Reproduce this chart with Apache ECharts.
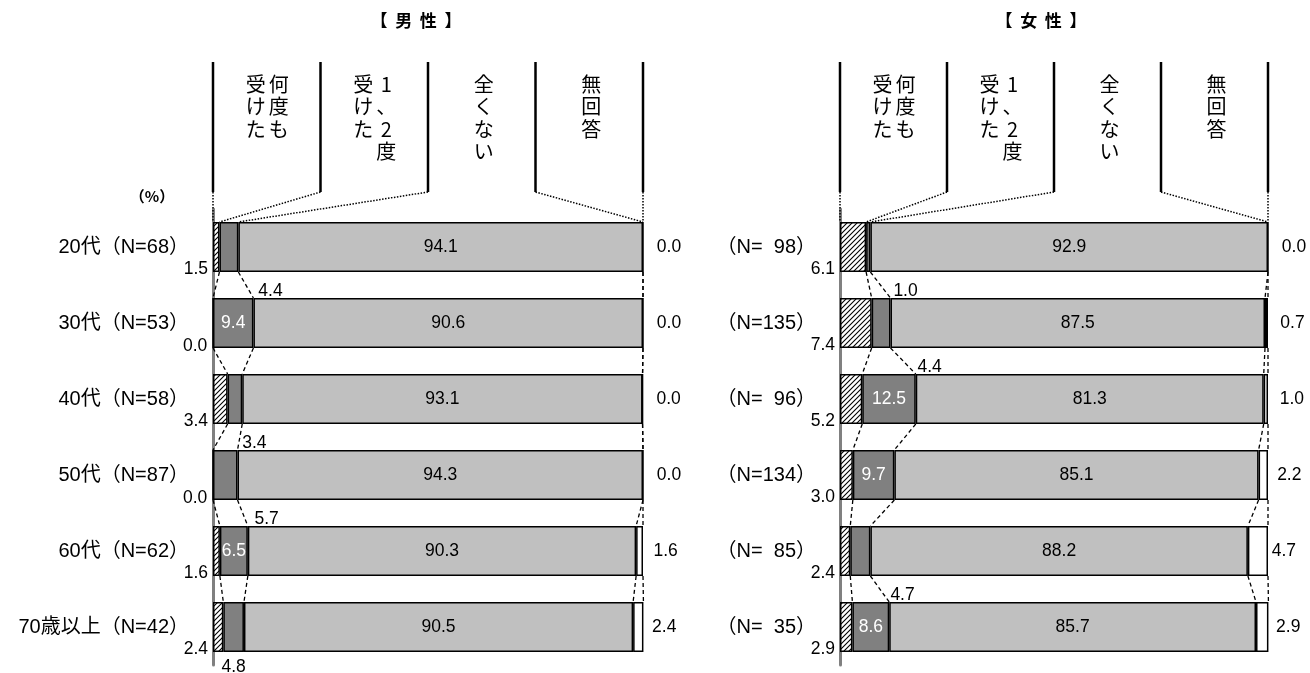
<!DOCTYPE html>
<html>
<head>
<meta charset="utf-8">
<script src="https://cdn.jsdelivr.net/npm/echarts@6/dist/echarts.min.js"></script>
<style>
  html, body { margin: 0; padding: 0; background: #fff; }
  #chart { width: 1310px; height: 673px; }
</style>
</head>
<body>
<div id="chart"></div>
<script>
// categories
const AGE_M = ['20代（N=68）', '30代（N=53）', '40代（N=58）', '50代（N=87）', '60代（N=62）', '70歳以上（N=42）'];
const AGE_F = ['（N=  98）', '（N=135）', '（N=  96）', '（N=134）', '（N=  85）', '（N=  35）'];
const HEADER_COLS = [['何度も', '受けた'], ['1、2度', '受けた'], ['全くない'], ['無回答']];

// 男性
const M_MANY = [1.5, 0.0, 3.4, 0.0, 1.6, 2.4];
const M_ONCE = [4.4, 9.4, 3.4, 5.7, 6.5, 4.8];
const M_NEVER = [94.1, 90.6, 93.1, 94.3, 90.3, 90.5];
const M_NA = [0.0, 0.0, 0.0, 0.0, 1.6, 2.4];

// 女性
const F_MANY = [6.1, 7.4, 5.2, 3.0, 2.4, 2.9];
const F_ONCE = [1.0, 4.4, 12.5, 9.7, 4.7, 8.6];
const F_NEVER = [92.9, 87.5, 81.3, 85.1, 88.2, 85.7];
const F_NA = [0.0, 0.7, 1.0, 2.2, 4.7, 2.9];

// label nudges for the small "1、2度" values (null = centred under the segment)
const M_ONCE_DX = [20, 0, 0, 17, 0, null];
const F_ONCE_DX = [23, 27, 0, 0, 20, 0];

const BAR = 50;
const HALF = BAR / 2;
const NUM_FONT = 'Liberation Sans, Arial, sans-serif';
const JP_FONT = '"Noto Sans CJK JP", sans-serif';

// hatch for 何度も受けた
const hatch = document.createElement('canvas');
hatch.width = 5; hatch.height = 5;
(function () {
  const c = hatch.getContext('2d');
  c.fillStyle = '#fff';
  c.fillRect(0, 0, 5, 5);
  c.strokeStyle = '#000';
  c.lineWidth = 1.1;
  c.beginPath();
  c.moveTo(-1, 6); c.lineTo(6, -1);
  c.moveTo(-1, 1); c.lineTo(1, -1);
  c.moveTo(4, 6); c.lineTo(6, 4);
  c.stroke();
})();

const fmt = p => Number(p.value).toFixed(1);

function onceLabel(v, dx) {
  if (v >= 6) return { show: true, position: 'inside', color: '#fff' };
  if (dx === null) {
    return { show: true, position: ['50%', '100%'], offset: [0, 15], align: 'center', verticalAlign: 'middle' };
  }
  return { show: true, position: ['100%', '100%'], offset: [dx, 19], align: 'left', verticalAlign: 'middle' };
}

function buildSide(idx, many, once, never, na, onceDx) {
  const stack = 's' + idx;
  const base = {
    type: 'bar', stack: stack, barWidth: BAR,
    xAxisIndex: idx, yAxisIndex: idx,
    itemStyle: { borderColor: '#000', borderWidth: 1.5 },
    label: { fontSize: 17.5, fontFamily: NUM_FONT, color: '#000', formatter: fmt }
  };
  const series = [
    Object.assign({}, base, {
      name: '何度も受けた',
      data: many,
      itemStyle: { color: { image: hatch, repeat: 'repeat' }, borderColor: '#000', borderWidth: 1.5 },
      label: Object.assign({}, base.label, {
        show: true, position: ['0%', '100%'], offset: [-5, -3], align: 'right', verticalAlign: 'middle'
      })
    }),
    Object.assign({}, base, {
      name: '1、2度受けた',
      data: once.map((v, i) => ({ value: v, label: onceLabel(v, onceDx[i]) })),
      itemStyle: { color: '#808080', borderColor: '#000', borderWidth: 1.5 },
      label: Object.assign({}, base.label, { show: true })
    }),
    Object.assign({}, base, {
      name: '全くない',
      data: never,
      itemStyle: { color: '#c0c0c0', borderColor: '#000', borderWidth: 1.5 },
      label: Object.assign({}, base.label, { show: true, position: 'inside' })
    }),
    Object.assign({}, base, {
      name: '無回答',
      data: na,
      itemStyle: { color: '#fff', borderColor: '#000', borderWidth: 1.5 },
      label: Object.assign({}, base.label, {
        show: true, position: ['50%', '50%'], offset: [26, 0], align: 'center', verticalAlign: 'middle'
      })
    })
  ];

  // cumulative boundaries per row
  const bounds = many.map((v, i) => {
    const c1 = v, c2 = c1 + once[i], c3 = c2 + never[i], c4 = c3 + na[i];
    return [c1, c2, c3, c4];
  });

  const links = [];
  for (let r = 0; r < bounds.length - 1; r++) {
    for (let k = 0; k < 4; k++) links.push([bounds[r][k], bounds[r + 1][k], r]);
  }
  series.push({
    type: 'custom', xAxisIndex: idx, yAxisIndex: idx, clip: false, silent: true,
    data: links,
    renderItem: (params, api) => {
      const a = api.coord([api.value(0), api.value(2)]);
      const b = api.coord([api.value(1), api.value(2) + 1]);
      return {
        type: 'line',
        shape: { x1: a[0], y1: a[1] + HALF, x2: b[0], y2: b[1] - HALF },
        style: { stroke: '#000', lineWidth: 1.3, lineDash: [4, 3] }
      };
    }
  });

  // header dividers, dotted down to the first bar
  const heads = [[0, 0], [25, bounds[0][0]], [50, bounds[0][1]], [75, bounds[0][2]], [100, bounds[0][3]]];
  series.push({
    type: 'custom', xAxisIndex: idx, yAxisIndex: idx, clip: false, silent: true,
    data: heads,
    renderItem: (params, api) => {
      const h = api.coord([api.value(0), 0]);
      const t = api.coord([api.value(1), 0]);
      const top = h[1] - HALF;
      return {
        type: 'group',
        children: [
          { type: 'line', shape: { x1: h[0], y1: top - 160, x2: h[0], y2: top - 30 },
            style: { stroke: '#000', lineWidth: 2.5 } },
          { type: 'line', shape: { x1: h[0], y1: top - 30, x2: t[0], y2: top },
            style: { stroke: '#000', lineWidth: 1.5, lineDash: [1.5, 1.5] } }
        ]
      };
    }
  });

  // header texts, vertical
  series.push({
    type: 'custom', xAxisIndex: idx, yAxisIndex: idx, clip: false, silent: true,
    data: [[12.5], [37.5], [62.5], [87.5]],
    renderItem: (params, api) => {
      const p = api.coord([api.value(0), 0]);
      const top = p[1] - HALF - 149;
      const cols = HEADER_COLS[params.dataIndex];
      const children = cols.map((txt, j) => {
        const off = cols.length === 1 ? 2 : (j === 0 ? 12 : -11);
        return {
          type: 'text',
          style: {
            text: txt.split('').join('\n'),
            x: p[0] + off, y: top,
            fill: '#000', fontSize: 20, lineHeight: 22.5, fontFamily: JP_FONT,
            align: 'center', verticalAlign: 'top'
          }
        };
      });
      return { type: 'group', children: children };
    }
  });

  return series;
}

const chart = echarts.init(document.getElementById('chart'));

const yAxisBase = {
  type: 'category', inverse: true, offset: 2,
  axisTick: { show: false },
  axisLine: { show: true, lineStyle: { color: '#808080', width: 3 } },
  axisLabel: { fontSize: 20, color: '#000', margin: 22, fontFamily: NUM_FONT + ', ' + JP_FONT }
};

const titleStyle = { fontSize: 17, fontWeight: 'bold', fontFamily: JP_FONT, fill: '#000', align: 'center' };

chart.setOption({
  animation: false,
  backgroundColor: '#fff',
  grid: [
    { left: 213, top: 209, width: 430, height: 456 },
    { left: 840, top: 209, width: 428, height: 456 }
  ],
  xAxis: [
    { type: 'value', gridIndex: 0, min: 0, max: 100, show: false },
    { type: 'value', gridIndex: 1, min: 0, max: 100, show: false }
  ],
  yAxis: [
    Object.assign({}, yAxisBase, { gridIndex: 0, data: AGE_M }),
    Object.assign({}, yAxisBase, { gridIndex: 1, data: AGE_F })
  ],
  graphic: [
    { type: 'text', x: 416, y: 12, style: Object.assign({ text: '【  男  性  】' }, titleStyle) },
    { type: 'text', x: 1041, y: 12, style: Object.assign({ text: '【  女  性  】' }, titleStyle) },
    { type: 'text', x: 152, y: 189, style: { text: '（%）', fontSize: 15, fontWeight: 'bold', fontFamily: JP_FONT, fill: '#000', align: 'center' } }
  ],
  series: [].concat(
    buildSide(0, M_MANY, M_ONCE, M_NEVER, M_NA, M_ONCE_DX),
    buildSide(1, F_MANY, F_ONCE, F_NEVER, F_NA, F_ONCE_DX)
  )
});
</script>
</body>
</html>
